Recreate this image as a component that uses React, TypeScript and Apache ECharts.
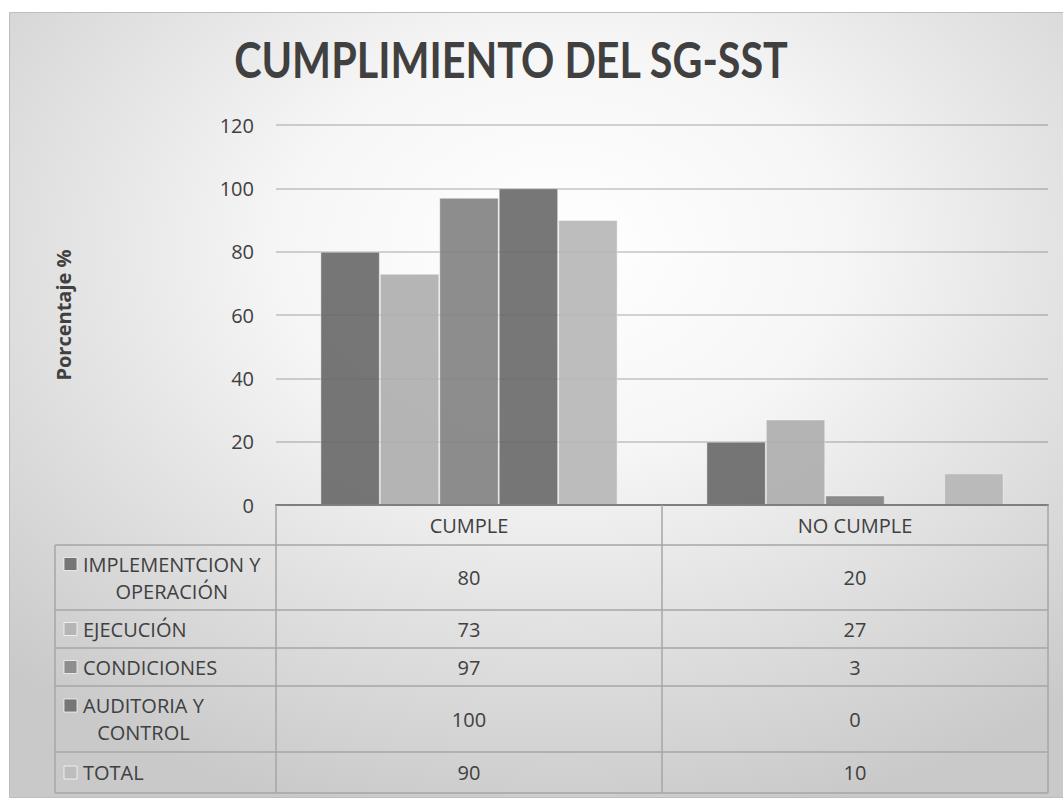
import React, { useEffect, useRef } from "react";
import * as echarts from "echarts";

const categories = ["CUMPLE", "NO CUMPLE"];
const seriesNames = [
  "IMPLEMENTCION Y OPERACIÓN",
  "EJECUCIÓN",
  "CONDICIONES",
  "AUDITORIA Y CONTROL",
  "TOTAL",
];
const implementacion = [80, 20];
const ejecucion = [73, 27];
const condiciones = [97, 3];
const auditoria = [100, 0];
const total = [90, 10];
const seriesValues = [implementacion, ejecucion, condiciones, auditoria, total];
const seriesColors = ["#676767", "#adadad", "#818181", "#686868", "#b6b6b6"];
const keyColors = ["#767676", "#b5b5b5", "#8e8e8e", "#767676", "#bdbdbd"];

const titleText = "CUMPLIMIENTO DEL SG-SST";
const yAxisTitle = "Porcentaje %";
const yMax = 120;
const yInterval = 20;

const FONT = "'Open Sans', Lato, sans-serif";
const FS = 20;

function measure(text: string, font: string): number {
  const c = document.createElement("canvas").getContext("2d");
  if (!c) return text.length * 11;
  c.font = font;
  return c.measureText(text).width;
}

export default function App() {
  const ref = useRef<HTMLDivElement>(null);
  useEffect(() => {
    if (!ref.current) return;
    const chart = echarts.init(ref.current, undefined, { renderer: "svg" });

    const gridL = 276, gridR = 1048, axisY = 505;
    const tableL = 55;
    const headerBottom = 545;
    const rowBounds = [545, 610, 648, 686, 752, 793];
    const colW = (gridR - gridL) / categories.length;
    const lineColor = "#a6a6a6";
    const textX = 83;

    const g: any[] = [];
    g.push({
      type: "rect",
      silent: true,
      z: -10,
      shape: { x: 9.5, y: 12.5, width: 1063, height: 785 },
      style: {
        fill: new echarts.graphic.RadialGradient(0.52, 0.3, 0.75, [
          { offset: 0, color: "#ffffff" },
          { offset: 0.35, color: "#f6f6f6" },
          { offset: 1, color: "#c9c9c9" },
        ]),
        stroke: "#bdbdbd",
        lineWidth: 1,
      },
    });
    // title
    const titleFont = "bold 50px Lato";
    const titleW = measure(titleText, titleFont);
    const targetW = 555;
    const sx = titleW > 0 ? Math.min(1, targetW / titleW) : 0.84;
    g.push({
      type: "text",
      silent: true,
      z: 6,
      x: 511,
      y: 59,
      scaleX: sx,
      scaleY: 1,
      style: {
        text: titleText,
        fontFamily: "Lato, sans-serif",
        fontWeight: "bold",
        fontSize: 50,
        fill: "#404040",
        textAlign: "center",
        textVerticalAlign: "middle",
      },
    });

    const hl = (x1: number, y1: number, x2: number, y2: number) =>
      g.push({
        type: "line",
        silent: true,
        z: 5,
        shape: { x1, y1, x2, y2 },
        style: { stroke: lineColor, lineWidth: 1.5 },
      });
    rowBounds.forEach((y) => hl(tableL, y, gridR, y));
    hl(tableL, headerBottom, tableL, rowBounds[rowBounds.length - 1]);
    for (let c = 0; c <= categories.length; c++) {
      const x = gridL + c * colW;
      hl(x, axisY, x, rowBounds[rowBounds.length - 1]);
    }
    const txt = (text: string, x: number, y: number, align: string) =>
      g.push({
        type: "text",
        silent: true,
        z: 6,
        x,
        y,
        style: {
          text,
          fontFamily: FONT,
          fontSize: FS,
          fill: "#404040",
          textAlign: align,
          textVerticalAlign: "middle",
        },
      });
    seriesNames.forEach((name, i) => {
      const top = rowBounds[i], bot = rowBounds[i + 1];
      const mid = (top + bot) / 2;
      const parts = name.split(" Y ");
      const lines = parts.length > 1 ? [parts[0] + " Y", parts.slice(1).join(" Y ")] : [name];
      const firstY = lines.length > 1 ? mid - 13.5 : mid;
      g.push({
        type: "rect",
        silent: true,
        z: 6,
        shape: { x: 64, y: firstY - 6.5, width: 13, height: 13 },
        style: { fill: keyColors[i], stroke: "rgba(255,255,255,0.7)", lineWidth: 1 },
      });
      if (lines.length > 1) {
        const w0 = measure(lines[0], `${FS}px 'Open Sans'`);
        const cx = textX + w0 / 2;
        txt(lines[0], cx, firstY, "center");
        txt(lines[1], cx, mid + 13.5, "center");
      } else {
        txt(lines[0], textX, firstY, "left");
      }
      seriesValues[i].forEach((v, c) => {
        txt(String(v), gridL + (c + 0.5) * colW, mid, "center");
      });
    });

    chart.setOption({
      animation: false,
      grid: { left: gridL, right: 1063 - gridR, top: 125, bottom: 800 - axisY },
      xAxis: {
        type: "category",
        data: categories,
        axisLine: { show: true, lineStyle: { color: "#7f7f7f", width: 2 } },
        axisTick: { show: false },
        axisLabel: {
          margin: 10,
          fontFamily: FONT,
          fontSize: FS,
          color: "#404040",
        },
        z: 4,
      },
      yAxis: {
        type: "value",
        min: 0,
        max: yMax,
        interval: yInterval,
        name: yAxisTitle,
        nameLocation: "middle",
        nameGap: 203,
        nameTextStyle: {
          fontFamily: FONT,
          fontWeight: "bold",
          fontSize: FS,
          color: "#404040",
        },
        axisLine: { show: false },
        axisTick: { show: false },
        axisLabel: {
          margin: 22,
          fontFamily: FONT,
          fontSize: FS,
          color: "#404040",
        },
        splitLine: { lineStyle: { color: "rgba(0,0,0,0.22)", width: 1.5 } },
      },
      graphic: g,
      series: seriesNames.map((name, i) => ({
        name,
        type: "bar",
        data: seriesValues[i],
        barGap: "0%",
        barCategoryGap: "23%",
        itemStyle: {
          color: seriesColors[i],
          opacity: 0.9,
          borderColor: "rgba(255,255,255,0.45)",
          borderWidth: 1,
        },
      })),
    });
    return () => chart.dispose();
  }, []);
  return (
    <div
      ref={ref}
      style={{ position: "fixed", left: 0, top: 0, width: 1063, height: 800, background: "#ffffff" }}
    />
  );
}
